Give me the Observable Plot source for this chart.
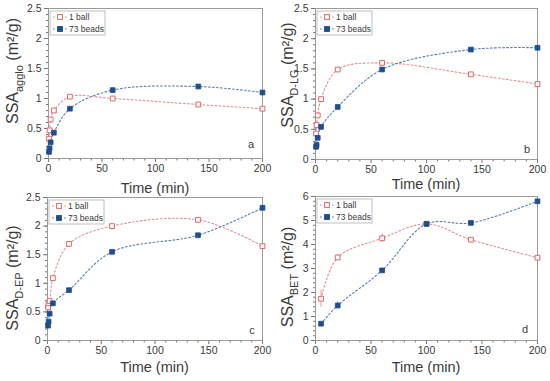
<!DOCTYPE html>
<html><head><meta charset="utf-8">
<script src="https://cdn.jsdelivr.net/npm/d3@7"></script>
<script src="https://cdn.jsdelivr.net/npm/@observablehq/plot@0.6"></script>
<style>
body{margin:0;background:#fff;}
#wrap{position:relative;width:550px;height:381px;overflow:hidden;background:#fff;}
.panel{position:absolute;}
.panel svg{overflow:visible;}
</style></head><body><div id="wrap"></div>
<script>
// ---- data ----
const timesEarly = [0.5, 1, 2, 5, 20, 60, 140, 200];
const timesBET = [5, 20, 60, 100, 140, 200];
const seriesNames = ["1 ball", "73 beads"];
const xTicks = [0, 50, 100, 150, 200];
const yTicks25 = [0, 0.5, 1, 1.5, 2, 2.5];
const yTicks6 = [0, 1, 2, 3, 4, 5, 6];

const aBall  = [0.33, 0.47, 0.65, 0.80, 1.03, 1.00, 0.90, 0.83];
const aBeads = [0.11, 0.17, 0.27, 0.43, 0.83, 1.14, 1.20, 1.10];
const bBall  = [0.43, 0.57, 0.73, 1.00, 1.49, 1.60, 1.41, 1.25];
const bBeads = [0.21, 0.24, 0.36, 0.54, 0.87, 1.49, 1.82, 1.85];
const cBall  = [0.58, 0.65, 0.69, 1.09, 1.69, 2.00, 2.11, 1.65];
const cBeads = [0.26, 0.33, 0.47, 0.65, 0.88, 1.55, 1.84, 2.32];
const dBall  = [1.74, 3.46, 4.26, 4.86, 4.20, 3.45];
const dBeads = [0.70, 1.46, 2.92, 4.86, 4.90, 5.80];
const dBallErr  = [0.35, 0.12, 0.18, 0.10, 0.05, 0.05];
const dBeadsErr = [0.05, 0.15, 0.05, 0.05, 0.05, 0.05];

// ---- styling / layout ----
const FONT = "'Liberation Sans', Arial, sans-serif";
const RED_LINE = "#e58f8f", RED_MARK = "#e06767";
const BLUE_LINE = "#5a7fae", BLUE_MARK = "#1f4e8f";
const TEXT = "#3a3a3a";
const DASH = "1.8,2.2";

const panels = [
  {letter:"a", sub:"agglo", left:0,   top:0,   height:200, mL:48, mR:13, mT:8, bottom:158, yMax:2.5, yTicks:yTicks25, yMinorStep:0.1,
   times:timesEarly, ball:aBall, beads:aBeads, labCy:71, timeDy:35, letterDx:11, letterDy:10},
  {letter:"b", sub:"D-LG",  left:275, top:0,   height:200, mL:40, mR:13, mT:8, bottom:159, yMax:2.5, yTicks:yTicks25, yMinorStep:0.1,
   times:timesEarly, ball:bBall, beads:bBeads, labCy:75, timeDy:30, letterDx:10, letterDy:6},
  {letter:"c", sub:"D-EP",  left:0,   top:190, height:191, mL:47, mR:13, mT:7, bottom:150, yMax:2.5, yTicks:yTicks25, yMinorStep:0.1,
   times:timesEarly, ball:cBall, beads:cBeads, labCy:88, timeDy:32, letterDx:10, letterDy:6},
  {letter:"d", sub:"BET",   left:275, top:190, height:191, mL:40, mR:13, mT:6, bottom:150, yMax:6,   yTicks:yTicks6,  yMinorStep:0.2,
   times:timesBET, ball:dBall, beads:dBeads, ballErr:dBallErr, beadsErr:dBeadsErr, labCy:87, timeDy:32, letterDx:12, letterDy:7}
];

const wrap = document.getElementById("wrap");

for (const p of panels) {
  const ballRows  = p.times.map((t, i) => ({t, v: p.ball[i],  e: p.ballErr  ? p.ballErr[i]  : 0, s: seriesNames[0]}));
  const beadsRows = p.times.map((t, i) => ({t, v: p.beads[i], e: p.beadsErr ? p.beadsErr[i] : 0, s: seriesNames[1]}));
  const minorX = d3.range(0, 201, 10).filter(v => v % 50 !== 0);
  const minorY = d3.range(0, p.yMax + 1e-9, p.yMinorStep).map(v => +v.toFixed(2));

  const marks = [
    Plot.axisX({ticks: minorX, tickSize: 2.5, tickFormat: () => "", label: null, stroke: "#777"}),
    Plot.axisX({ticks: xTicks, tickSize: 4, tickPadding: 2, fontSize: 10.5, label: null, stroke: "#777"}),
    Plot.axisY({ticks: minorY, tickSize: 2, tickFormat: () => "", label: null, stroke: "#777"}),
    Plot.axisY({ticks: p.yTicks, tickSize: 4, tickPadding: 3, fontSize: 10.5, label: null, stroke: "#777", tickFormat: d3.format("~g")}),
    Plot.frame({stroke: "#9a9a9a"}),
    Plot.line(ballRows,  {x: "t", y: "v", curve: "catmull-rom", stroke: RED_LINE,  strokeWidth: 1.1, strokeDasharray: DASH}),
    Plot.line(beadsRows, {x: "t", y: "v", curve: "catmull-rom", stroke: BLUE_LINE, strokeWidth: 1.1, strokeDasharray: DASH})
  ];
  if (p.ballErr) {
    marks.push(Plot.ruleX(ballRows,  {x: "t", y1: d => d.v - d.e, y2: d => d.v + d.e, stroke: RED_MARK,  strokeOpacity: 0.7}));
    marks.push(Plot.ruleX(beadsRows, {x: "t", y1: d => d.v - d.e, y2: d => d.v + d.e, stroke: BLUE_MARK, strokeOpacity: 0.7}));
  }
  marks.push(Plot.dot(ballRows,  {x: "t", y: "v", symbol: "square", r: 2.7, fill: "white", stroke: RED_MARK, strokeWidth: 1}));
  marks.push(Plot.dot(beadsRows, {x: "t", y: "v", symbol: "square", r: 2.7, fill: BLUE_MARK, stroke: BLUE_MARK, strokeWidth: 0.8}));

  const chart = Plot.plot({
    width: 275, height: p.height,
    marginLeft: p.mL, marginRight: p.mR, marginTop: p.mT, marginBottom: p.height - p.bottom,
    x: {domain: [0, 200]},
    y: {domain: [0, p.yMax]},
    style: {background: "transparent", fontFamily: FONT, color: TEXT, overflow: "visible"},
    marks
  });

  const div = document.createElement("div");
  div.className = "panel";
  div.style.left = p.left + "px";
  div.style.top = p.top + "px";
  div.appendChild(chart);
  wrap.appendChild(div);

  const svg = d3.select(chart);
  const right = 275 - p.mR;

  // x-axis title
  svg.append("text")
    .attr("x", (p.mL + right) / 2).attr("y", p.bottom + p.timeDy)
    .attr("text-anchor", "middle").attr("font-family", FONT).attr("font-size", 14.5).attr("fill", TEXT)
    .text("Time (min)");

  // y-axis title with subscript
  const yl = svg.append("text")
    .attr("transform", `translate(12,${p.labCy}) rotate(-90)`)
    .attr("text-anchor", "middle").attr("dy", "0.36em")
    .attr("font-family", FONT).attr("font-size", 16).attr("fill", TEXT);
  yl.append("tspan").text("SSA");
  yl.append("tspan").attr("font-size", 11).attr("dy", "0.45em").text(p.sub);
  yl.append("tspan").attr("dy", "-0.3em").text(" (m²/g)");

  // panel letter
  svg.append("text")
    .attr("x", right - p.letterDx).attr("y", p.bottom - p.letterDy)
    .attr("text-anchor", "middle").attr("font-family", FONT).attr("font-size", 11).attr("fill", TEXT)
    .text(p.letter);

  // legend
  const lg = svg.append("g").attr("transform", `translate(${p.mL + 2},${p.mT + 3})`);
  lg.append("rect").attr("width", 55).attr("height", 24).attr("fill", "white").attr("stroke", "#b0b0b0").attr("stroke-width", 0.8);
  const entries = [
    {name: seriesNames[0], line: RED_LINE, fill: "white", stroke: RED_MARK},
    {name: seriesNames[1], line: BLUE_LINE, fill: BLUE_MARK, stroke: BLUE_MARK}
  ];
  entries.forEach((e, i) => {
    const cy = 6 + i * 12;
    lg.append("line").attr("x1", 3).attr("x2", 17).attr("y1", cy).attr("y2", cy)
      .attr("stroke", e.line).attr("stroke-width", 1.1).attr("stroke-dasharray", DASH);
    lg.append("rect").attr("x", 7.6).attr("y", cy - 2.4).attr("width", 4.8).attr("height", 4.8)
      .attr("fill", e.fill).attr("stroke", e.stroke).attr("stroke-width", 1);
    lg.append("text").attr("x", 19).attr("y", cy).attr("dy", "0.35em").attr("text-anchor", "start")
      .attr("font-family", FONT).attr("font-size", 8.5).attr("fill", TEXT).text(e.name);
  });
}
</script>
</body></html>
